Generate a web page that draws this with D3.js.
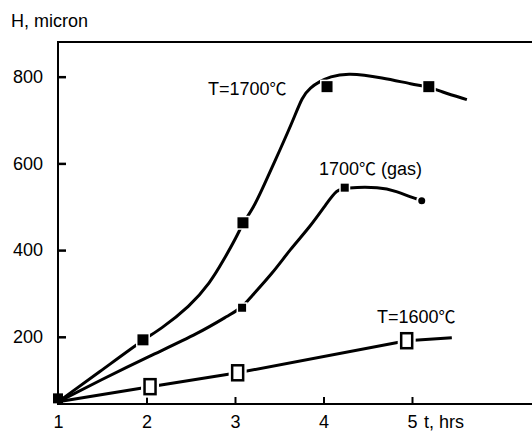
<!DOCTYPE html>
<html lang="en">
    <head>
        <script src="https://d3js.org/d3.v7.min.js"></script>
        <meta charset="UTF-8">
        <title>H vs t</title>
        <style>
            body {
            margin: 0;
            background-color: #ffffff;
            }
            text {
            font-family: "Liberation Sans", Arial, sans-serif;
            fill: #000;
            }
            .deg {
            font-family: "Noto Sans CJK SC", "DejaVu Sans", sans-serif;
            }
        </style>
    </head>
    <body>
        <div id="chart"></div>

        <script>
            // T=1700 curve
            const t1700 = [1, 1.47, 1.96, 2.15, 2.49, 2.72, 2.86, 3.02, 3.09, 3.20, 3.32, 3.51, 3.66, 3.76, 3.85, 3.96, 4.07, 4.27, 4.67, 5.01, 5.19, 5.32, 5.62];
            const h1700 = [50, 119, 193, 216, 270, 325, 373, 431, 463, 494, 546, 632, 701, 754, 775, 789, 800, 809, 798, 782, 777, 766, 747];
            const tMark1700 = [1.96, 3.09, 4.04, 5.19];
            const hMark1700 = [193, 463, 777, 777];

            // 1700 (gas) curve
            const tGas = [1, 1.47, 2.04, 2.60, 2.94, 3.08, 3.17, 3.43, 3.62, 3.85, 4.04, 4.15, 4.24, 4.64, 4.83, 4.98, 5.11];
            const hGas = [50, 99, 156, 209, 251, 267, 290, 348, 401, 454, 509, 539, 544, 546, 535, 523, 514];
            const tMarkGas = [3.08, 4.24];
            const hMarkGas = [267, 544];
            const tDotGas = [5.11];
            const hDotGas = [514];

            // T=1600 curve
            const t1600 = [1, 2.04, 3.03, 4.94, 5.45];
            const h1600 = [50, 85, 117, 191, 198];
            const tMark1600 = [2.04, 3.03, 4.94];
            const hMark1600 = [85, 117, 191];

            // common start point
            const tStart = [1];
            const hStart = [58];

            const xTicks = [1, 2, 3, 4, 5];
            const yTicks = [200, 400, 600, 800];

            const width = 532, height = 432;
            const plotLeft = 58, plotRight = 532, plotTop = 42, plotBottom = 404;

            const svg = d3.select("#chart")
                          .append("svg")
                          .attr("width", width)
                          .attr("height", height);

            const x = d3.scaleLinear().domain([1, 6.356]).range([plotLeft, plotRight]);
            const y = d3.scaleLinear().domain([45, 880]).range([plotBottom, plotTop]);

            const zip = (ts, hs) => ts.map((t, i) => [t, hs[i]]);

            // frame: left, top, bottom
            svg.append("path")
               .attr("d", `M${plotRight},${plotTop}H${plotLeft}V${plotBottom}H${plotRight}`)
               .attr("fill", "none")
               .attr("stroke", "#000")
               .attr("stroke-width", 2);

            const yAxis = svg.append("g")
                             .attr("transform", `translate(${plotLeft},0)`)
                             .call(d3.axisLeft(y).tickValues(yTicks).tickSize(-8).tickPadding(15));
            yAxis.select(".domain").remove();
            yAxis.selectAll("line").attr("stroke-width", 2.5);
            yAxis.selectAll("text").attr("font-size", 18).attr("font-family", "Liberation Sans, Arial, sans-serif");

            const xAxis = svg.append("g")
                             .attr("transform", `translate(0,${plotBottom})`)
                             .call(d3.axisBottom(x).tickValues(xTicks).tickSize(-7).tickPadding(11).tickFormat(d3.format("d")));
            xAxis.select(".domain").remove();
            xAxis.selectAll("line").attr("stroke-width", 2);
            xAxis.selectAll("text").attr("font-size", 18).attr("font-family", "Liberation Sans, Arial, sans-serif");

            svg.append("text")
               .attr("x", x(5) + 12)
               .attr("y", 428)
               .attr("font-size", 18)
               .text("t, hrs");

            svg.append("text")
               .attr("x", 11)
               .attr("y", 27)
               .attr("font-size", 18)
               .text("H, micron");

            // curves
            const smooth = d3.line().x(d => x(d[0])).y(d => y(d[1])).curve(d3.curveBasis);
            const straight = d3.line().x(d => x(d[0])).y(d => y(d[1]));

            [[smooth, zip(t1700, h1700)], [smooth, zip(tGas, hGas)], [straight, zip(t1600, h1600)]].forEach(([gen, pts]) => {
                svg.append("path")
                   .attr("d", gen(pts))
                   .attr("fill", "none")
                   .attr("stroke", "#000")
                   .attr("stroke-width", 3)
                   .attr("stroke-linejoin", "round");
            });

            // markers (white edge leaves the small gaps seen in the picture)
            function squares(pts, size) {
                svg.selectAll(null)
                   .data(pts)
                   .enter()
                   .append("rect")
                   .attr("x", d => x(d[0]) - size / 2)
                   .attr("y", d => y(d[1]) - size / 2)
                   .attr("width", size)
                   .attr("height", size)
                   .attr("fill", "#000")
                   .attr("stroke", "#fff")
                   .attr("stroke-width", 3)
                   .attr("paint-order", "stroke");
            }
            squares(zip(tMark1700, hMark1700), 11);
            squares(zip(tMarkGas, hMarkGas), 8);

            svg.selectAll(null)
               .data(zip(tDotGas, hDotGas))
               .enter()
               .append("circle")
               .attr("cx", d => x(d[0]))
               .attr("cy", d => y(d[1]))
               .attr("r", 4.5)
               .attr("fill", "#000")
               .attr("stroke", "#fff")
               .attr("stroke-width", 2);

            svg.selectAll(null)
               .data(zip(tStart, hStart))
               .enter()
               .append("rect")
               .attr("x", d => x(d[0]) - 5)
               .attr("y", d => y(d[1]) - 5)
               .attr("width", 10)
               .attr("height", 10)
               .attr("fill", "#000");

            const open = svg.selectAll(null)
                            .data(zip(tMark1600, hMark1600))
                            .enter();
            open.append("rect")
                .attr("x", d => x(d[0]) - 9)
                .attr("y", d => y(d[1]) - 11)
                .attr("width", 18)
                .attr("height", 22)
                .attr("fill", "#fff");
            open.append("rect")
                .attr("x", d => x(d[0]) - 5.5)
                .attr("y", d => y(d[1]) - 7.5)
                .attr("width", 11)
                .attr("height", 15)
                .attr("fill", "#fff")
                .attr("stroke", "#000")
                .attr("stroke-width", 2.5);

            // curve labels
            function label(px, py, before, after) {
                const t = svg.append("text").attr("x", px).attr("y", py).attr("font-size", 18);
                t.append("tspan").text(before);
                t.append("tspan").attr("class", "deg").attr("font-size", 17).text("℃");
                if (after) t.append("tspan").text(after);
            }
            label(208, 95, "T=1700", "");
            label(319, 175, "1700", " (gas)");
            label(377, 323, "T=1600", "");
        </script>
    </body>
</html>
